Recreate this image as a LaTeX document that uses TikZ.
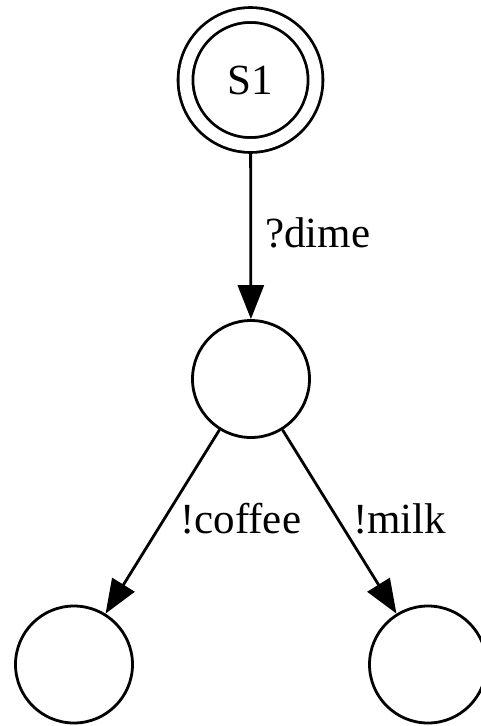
\documentclass[tikz,border=0pt]{standalone}
\usepackage{fontspec}
\setmainfont{Liberation Serif}
\usetikzlibrary{arrows.meta}
\begin{document}
\begin{tikzpicture}[x=1pt,y=-1pt,
  state/.style={circle,draw,line width=2.8pt,minimum size=117pt,inner sep=0pt,font=\fontsize{43}{50}\selectfont},
  edge/.style={line width=2.8pt,-{Triangle[length=34pt,width=26pt]}},
  lbl/.style={font=\fontsize{43}{50}\selectfont,inner sep=0pt,anchor=base west}]
\useasboundingbox (0,0) rectangle (481,726);
\node[state,double,double distance=12pt,minimum size=130pt,outer sep=8.8pt] (s1) at (250.5,80) {S1};
\node[state] (m) at (251,379) {};
\node[state] (a) at (74,664.5) {};
\node[state] (b) at (428,664.5) {};
\draw[edge] (s1) -- (m);
\draw[edge] (m) -- (a);
\draw[edge] (m) -- (b);
\node[lbl] (l1) at (265,247) {?dime};
\node[lbl] (l2) at (180,533) {!coffee};
\node[lbl] (l3) at (353,533) {!milk};
\end{tikzpicture}
\end{document}
